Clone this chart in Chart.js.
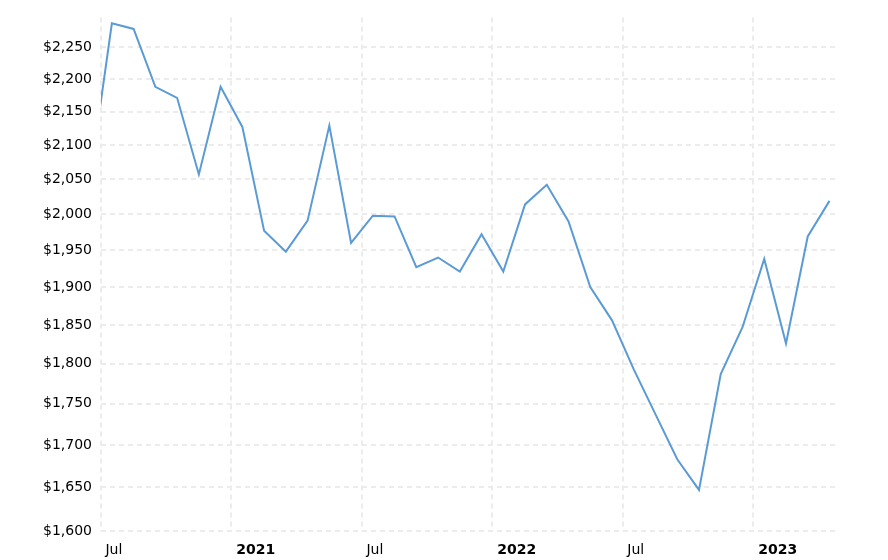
<!DOCTYPE html>
<html>
<head>
<meta charset="utf-8">
<script src="https://cdn.jsdelivr.net/npm/chart.js@4.4.0/dist/chart.umd.min.js"></script>
<style>
    html, body { margin: 0; padding: 0; background: #fff; }
    canvas { display: block; }
</style>
</head>
<body>
<canvas id="priceChart" width="888" height="560"></canvas>
<script>
// monthly values, Jun 2020 .. Apr 2023 (first one sits left of the axis and is clipped)
const months = [
    '2020-06', '2020-07', '2020-08', '2020-09', '2020-10', '2020-11', '2020-12',
    '2021-01', '2021-02', '2021-03', '2021-04', '2021-05', '2021-06',
    '2021-07', '2021-08', '2021-09', '2021-10', '2021-11', '2021-12',
    '2022-01', '2022-02', '2022-03', '2022-04', '2022-05', '2022-06',
    '2022-07', '2022-08', '2022-09', '2022-10', '2022-11', '2022-12',
    '2023-01', '2023-02', '2023-03', '2023-04'
];
const prices = [
    2052, 2288, 2279, 2188, 2171, 2057, 2188,
    2127, 1977, 1948, 1991, 2129, 1960,
    1998, 1997, 1927, 1940, 1921, 1972,
    1921, 2014, 2042, 1990, 1900, 1856,
    1793, 1737, 1683, 1647, 1787, 1847,
    1938, 1826, 1969, 2019
];
const yTicks = [1600, 1650, 1700, 1750, 1800, 1850, 1900, 1950, 2000, 2050, 2100, 2150, 2200, 2250];
const xTickLabels = ['Jul', '2021', 'Jul', '2022', 'Jul', '2023'];
const xTickMonths = [0, 6, 12, 18, 24, 30]; // months after Jul 2020

document.addEventListener('DOMContentLoaded', function() {
    initPriceChart();
});

/**
 * Initialize Price Chart
 */
function initPriceChart() {
    const ctx = document.getElementById('priceChart');
    if (!ctx) return;

    // month index -> x, points plotted mid-month
    const points = prices.map((v, i) => ({ x: i - 1 + 0.5, y: v }));

    new Chart(ctx.getContext('2d'), {
        type: 'line',
        data: {
            datasets: [{
                data: points,
                borderColor: '#5b9bd5',
                borderWidth: 2,
                pointRadius: 0,
                tension: 0,
                fill: false,
                clip: 0
            }]
        },
        options: {
            responsive: false,
            animation: false,
            devicePixelRatio: 1,
            layout: {
                padding: { top: 17, right: 52, left: 0, bottom: 0 }
            },
            plugins: {
                legend: { display: false },
                tooltip: { enabled: false }
            },
            scales: {
                x: {
                    type: 'linear',
                    min: 0,
                    max: 33.8,
                    afterBuildTicks: function(scale) {
                        scale.ticks = xTickMonths.map(v => ({ value: v }));
                    },
                    afterFit: function(scale) {
                        scale.height = 29;
                    },
                    grid: {
                        color: '#ececec',
                        lineWidth: 2,
                        drawTicks: false
                    },
                    border: { display: false, dash: [5, 4] },
                    ticks: {
                        align: 'start',
                        maxRotation: 0,
                        padding: 11,
                        color: '#000',
                        font: function(c) {
                            const i = xTickMonths.indexOf(c.tick ? c.tick.value : -1);
                            const bold = i >= 0 && /^\d{4}$/.test(xTickLabels[i]);
                            return { family: 'DejaVu Sans', size: 14, weight: bold ? 'bold' : 'normal' };
                        },
                        callback: function(value) {
                            const i = xTickMonths.indexOf(value);
                            return i >= 0 ? ' ' + xTickLabels[i] : '';
                        }
                    }
                },
                y: {
                    type: 'logarithmic',
                    min: 1600,
                    max: 2297.6,
                    afterBuildTicks: function(scale) {
                        scale.ticks = yTicks.map(v => ({ value: v }));
                    },
                    afterFit: function(scale) {
                        scale.width = 101;
                    },
                    grid: {
                        color: '#ececec',
                        lineWidth: 2,
                        drawTicks: false
                    },
                    border: { display: false, dash: [5, 4] },
                    ticks: {
                        padding: 9,
                        color: '#000',
                        font: { family: 'DejaVu Sans', size: 14 },
                        callback: function(value) {
                            return '$' + Number(value).toLocaleString('en-US');
                        }
                    }
                }
            }
        }
    });
}
</script>
</body>
</html>
